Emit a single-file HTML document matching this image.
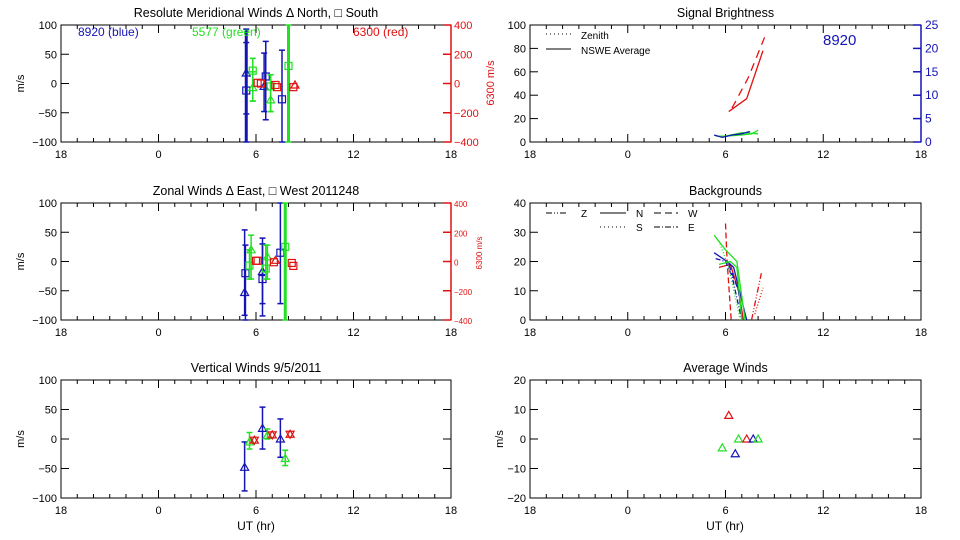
<!DOCTYPE html>
<html><head><meta charset="utf-8"><style>
body{margin:0;background:#fff;}
svg{display:block;font-family:"Liberation Sans",sans-serif;}
</style></head><body>
<svg id="fig" width="960" height="540" viewBox="0 0 960 540"></svg>
<script>
const BLUE="#1414b4", GREEN="#22e022", RED="#e01010";
// ---- data ----
const timeTicks=[-6,0,6,12,18];
const timeTickLabels=["18","0","6","12","18"];
// Meridional: [time, value, lo, hi, symbol]
const merBlue=[[5.4,-12,-100,93,"s"],[5.4,18,-52,70,"t"],[6.6,12,-62,72,"s"],[6.5,-5,-48,52,"t"],[7.6,-27,-100,57,"s"]];
const merGreen=[[5.8,22,-30,43,"s"],[5.8,-7,-30,20,"t"],[6.9,-5,-48,15,"s"],[6.9,-28,-48,15,"t"],[8.0,30,-100,100,"s"]];
const merRed=[[6.1,5,null,null,"s"],[6.3,0,null,null,"s"],[7.2,-10,null,null,"s"],[7.3,-25,null,null,"s"],[8.3,-25,null,null,"s"],[8.4,-10,null,null,"t"]];
const zonBlue=[[5.3,-53,-92,54,"t"],[5.35,-20,-100,28,"s"],[6.4,-17,-72,30,"t"],[6.4,-30,-93,40,"s"],[7.5,15,-72,100,"s"]];
const zonGreen=[[5.7,20,-30,45,"t"],[5.6,-7,-30,20,"s"],[6.7,8,-30,28,"t"],[6.6,-12,-30,28,"s"],[7.8,25,-100,100,"s"]];
const zonRed=[[6.0,5,null,null,"s"],[6.1,5,null,null,"s"],[7.1,-5,null,null,"s"],[7.2,8,null,null,"t"],[8.2,-10,null,null,"s"],[8.3,-30,null,null,"s"]];
const vertBlue=[[5.3,-48,-88,-5,"t"],[6.4,18,-17,54,"t"],[7.5,0,-31,34,"t"]];
const vertGreen=[[5.6,-5,-17,11,"t"],[6.7,6,0,17,"t"],[7.8,-33,-45,-19,"t"]];
const vertRed=[[5.9,-2,null,null,"x"],[7.0,7,null,null,"x"],[8.1,8,null,null,"x"]];
const avgTimes=[5.8,6.2,6.6,6.8,7.3,7.7,8.0];
const avgValues=[-3,8,-5,0,0,0,0];
const avgColors=[GREEN,RED,BLUE,GREEN,RED,BLUE,GREEN];
const sigRedSolidT=[6.2,7.3,8.3], sigRedSolidV=[26,37,78];
const sigRedDashT=[6.4,7.4,8.5], sigRedDashV=[29,55,93];
const sigBlueT=[5.3,5.8,6.4,7.0,7.5], sigBlueV=[6,4,6,7,9];
const sigGreenT=[5.4,6.0,7.0,7.6,8.0], sigGreenV=[5,5,6,7,10];
const sigGreenT2=[6.0,7.0,8.0], sigGreenV2=[5,8,7];
const bgSeries=[
 {c:RED,d:"6,3",t:[6.0,6.1,6.35],v:[33,20,0]},
 {c:RED,d:"6,2,1,2,1,2",t:[7.6,8.2],v:[0,16]},
 {c:RED,d:"1,2",t:[7.8,8.3],v:[2,11]},
 {c:RED,d:"",t:[5.6,6.3,6.8,7.1],v:[18,19,10,0]},
 {c:BLUE,d:"",t:[5.3,6.1,6.5,7.3],v:[23,20,18,0]},
 {c:BLUE,d:"5,2,1,2",t:[5.4,6.0,6.4,7.0],v:[21,20,15,0]},
 {c:BLUE,d:"6,3",t:[6.2,6.8,7.0],v:[19,10,0]},
 {c:GREEN,d:"",t:[5.3,6.0,6.7,7.2],v:[29,24,20,0]},
 {c:GREEN,d:"",t:[5.6,6.3,6.7,7.0],v:[19,20,18,0]},
 {c:GREEN,d:"1,2",t:[5.6,6.2,6.9],v:[27,18,0]}
];
// ---- helpers ----
const svg=document.getElementById('fig');
const NS="http://www.w3.org/2000/svg";
function el(tag,attrs,parent){const e=document.createElementNS(NS,tag);for(const k in attrs)e.setAttribute(k,attrs[k]);(parent||svg).appendChild(e);return e;}
function txt(x,y,s,attrs){const e=el('text',Object.assign({x:x,y:y,'font-size':11},attrs||{}));e.textContent=s;return e;}
function mkPanel(name,x0,x1,y0,y1,ymin,ymax){
  const g=el('g',{});
  
  
  return {g,x0,x1,y0,y1,ymin,ymax,
    X:t=>x0+(t+6)/24*(x1-x0),
    Y:v=>y1-(v-ymin)/(ymax-ymin)*(y1-y0)};
}
function frame(p,title,yticks,ylabels,mirror){
  el('rect',{x:p.x0,y:p.y0,width:p.x1-p.x0,height:p.y1-p.y0,fill:'none',stroke:'#000','stroke-width':1},p.g);
  for(let h=-6;h<=18;h++){
    const x=p.X(h);const maj=(h%6===0);const L=maj?8:4;
    el('line',{x1:x,x2:x,y1:p.y1,y2:p.y1-L,stroke:'#000'},p.g);
    el('line',{x1:x,x2:x,y1:p.y0,y2:p.y0+L,stroke:'#000'},p.g);
  }
  timeTicks.forEach((t,i)=>{const e=txt(p.X(t),p.y1+16,timeTickLabels[i],{'text-anchor':'middle'});p.g.appendChild(e);});
  yticks.forEach((v,i)=>{const y=p.Y(v);
    el('line',{x1:p.x0,x2:p.x0+8,y1:y,y2:y,stroke:'#000'},p.g);
    if(mirror)el('line',{x1:p.x1,x2:p.x1-8,y1:y,y2:y,stroke:'#000'},p.g);
    const e=txt(p.x0-4,y+4,ylabels[i],{'text-anchor':'end'});p.g.appendChild(e);});
  const tt=txt((p.x0+p.x1)/2,p.y0-8,title,{'text-anchor':'middle','font-size':12.5});
  p.g.appendChild(tt);
}
function ylab(p,s,x){const e=txt(0,0,s,{'text-anchor':'middle','font-size':11,transform:`translate(${x},${(p.y0+p.y1)/2}) rotate(-90)`});p.g.appendChild(e);}
function sym(p,x,y,s,c){
  if(s==="s")el('rect',{x:x-3.5,y:y-3.5,width:7,height:7,fill:'none',stroke:c,'stroke-width':1.2},p.g);
  else if(s==="t")el('polygon',{points:`${x},${y-4} ${x-4},${y+3} ${x+4},${y+3}`,fill:'none',stroke:c,'stroke-width':1.2},p.g);
  else {el('polygon',{points:`${x},${y-4} ${x-4},${y+3} ${x+4},${y+3}`,fill:'none',stroke:c,'stroke-width':1.2},p.g);
        el('polygon',{points:`${x},${y+4} ${x-4},${y-3} ${x+4},${y-3}`,fill:'none',stroke:c,'stroke-width':1.2},p.g);}
}
function points(p,arr,c,Yf,name){
  arr.forEach(d=>{
    const x=p.X(d[0]);
    const clamp=v=>Math.max(p.y0,Math.min(p.y1,v));
    if(d[2]!==null){
      const ya=clamp(Yf(d[2])),yb=clamp(Yf(d[3]));
      const big=(d[3]-d[2])>=190;
      el('line',{x1:x,x2:x,y1:ya,y2:yb,stroke:c,'stroke-width':big?3:1.5},p.g);
      el('line',{x1:x-3,x2:x+3,y1:ya,y2:ya,stroke:c,'stroke-width':1.5},p.g);
      el('line',{x1:x-3,x2:x+3,y1:yb,y2:yb,stroke:c,'stroke-width':1.5},p.g);
    }
    const m=el('g',{},p.g);
    
    
    sym(p,x,Yf(d[1]),d[4],c);
  });
}
function poly(p,T,V,c,dash,name,Yf){
  const pts=T.map((t,i)=>`${p.X(t)},${(Yf||p.Y)(V[i])}`).join(' ');
  const e=el('polyline',{points:pts,fill:'none',stroke:c,'stroke-width':1.3,'stroke-dasharray':dash||''},p.g);
  
  
}
function redAxis(p,ticks,fs){
  const Y2=v=>p.y1-(v+400)/800*(p.y1-p.y0);
  el('line',{x1:p.x1,x2:p.x1,y1:p.y0,y2:p.y1,stroke:RED,'stroke-width':1.5},p.g);
  ticks.forEach(v=>{const y=Y2(v);el('line',{x1:p.x1-8,x2:p.x1,y1:y,y2:y,stroke:RED,'stroke-width':1.5},p.g);
    const e=txt(p.x1+3,y+4,String(v).replace('-','−'),{fill:RED,'font-size':fs});p.g.appendChild(e);});
  return Y2;
}
const lab100=["100","50","0","−50","−100"], t100=[100,50,0,-50,-100];
// ---- Meridional ----
let p=mkPanel('meridional-winds-panel',61,451,25,142,-100,100);
frame(p,"Resolute Meridional Winds Δ North, □ South",t100,lab100,false);
ylab(p,"m/s",24);
let Y2=redAxis(p,[400,200,0,-200,-400],11);
txt(78,36,"8920 (blue)",{fill:BLUE,'font-size':12});
txt(192,36,"5577 (green)",{fill:GREEN,'font-size':12});
txt(353,36,"6300 (red)",{fill:RED,'font-size':12});
points(p,merBlue,BLUE,p.Y,'blue-point');points(p,merGreen,GREEN,p.Y,'green-point');points(p,merRed,RED,Y2,'red-point');
let e=txt(0,0,"6300 m/s",{fill:RED,'font-size':11,'text-anchor':'middle',transform:'translate(494,83) rotate(-90)'});

// ---- Zonal ----
p=mkPanel('zonal-winds-panel',61,451,203,320,-100,100);
frame(p,"Zonal Winds Δ East, □ West 2011248",t100,lab100,false);
ylab(p,"m/s",24);
Y2=redAxis(p,[400,200,0,-200,-400],8);
points(p,zonBlue,BLUE,p.Y,'blue-point');points(p,zonGreen,GREEN,p.Y,'green-point');points(p,zonRed,RED,Y2,'red-point');
e=txt(0,0,"6300 m/s",{fill:RED,'font-size':8,'text-anchor':'middle',transform:'translate(482,253) rotate(-90)'});

// ---- Vertical ----
p=mkPanel('vertical-winds-panel',61,451,380,498,-100,100);
frame(p,"Vertical Winds 9/5/2011",t100,lab100,true);
ylab(p,"m/s",24);
points(p,vertBlue,BLUE,p.Y,'blue-point');points(p,vertGreen,GREEN,p.Y,'green-point');points(p,vertRed,RED,p.Y,'red-point');
e=txt(256,530,"UT (hr)",{'text-anchor':'middle','font-size':12});
// ---- Signal Brightness ----
p=mkPanel('signal-brightness-panel',530,921,25,142,0,100);
frame(p,"Signal Brightness",[100,80,60,40,20,0],["100","80","60","40","20","0"],false);
const YB=v=>p.y1-v/25*(p.y1-p.y0);
el('line',{x1:p.x1,x2:p.x1,y1:p.y0,y2:p.y1,stroke:BLUE,'stroke-width':1.5},p.g);
[0,5,10,15,20,25].forEach(v=>{const y=YB(v);el('line',{x1:p.x1-8,x2:p.x1,y1:y,y2:y,stroke:BLUE,'stroke-width':1.5},p.g);
  const t=txt(p.x1+4,y+4,String(v),{fill:BLUE,'font-size':12});});
txt(823,45,"8920",{fill:BLUE,'font-size':15});
el('line',{x1:546,x2:571,y1:34,y2:34,stroke:'#000','stroke-dasharray':'1,3'},p.g);
txt(581,39,"Zenith",{'font-size':10});
el('line',{x1:546,x2:571,y1:49,y2:49,stroke:'#000'},p.g);
txt(581,54,"NSWE Average",{'font-size':10});
poly(p,sigRedSolidT,sigRedSolidV,RED,'','red-average-line');
poly(p,sigRedDashT,sigRedDashV,RED,'8,6','red-zenith-line');
poly(p,sigGreenT,sigGreenV,GREEN,'','green-line');
poly(p,sigGreenT2,sigGreenV2,GREEN,'','green-line-2');
poly(p,sigBlueT,sigBlueV,BLUE,'','blue-line');
// ---- Backgrounds ----
p=mkPanel('backgrounds-panel',530,921,203,320,0,40);
frame(p,"Backgrounds",[40,30,20,10,0],["40","30","20","10","0"],true);
[[546,566,"6,2,1,2,1,2","Z",581,217],[600,626,"","N",636,217],[654,678,"7,4","W",688,217],[600,626,"1,3","S",636,231],[654,678,"6,2,1,2","E",688,231]].forEach(l=>{
  el('line',{x1:l[0],x2:l[1],y1:l[5]-4,y2:l[5]-4,stroke:'#000','stroke-dasharray':l[2]},p.g);
  const t=txt(l[4],l[5],l[3],{'font-size':10});});
bgSeries.forEach(s=>poly(p,s.t,s.v,s.c,s.d,'background-line'));
// ---- Average winds ----
p=mkPanel('average-winds-panel',530,921,380,498,-20,20);
frame(p,"Average Winds",[20,10,0,-10,-20],["20","10","0","−10","−20"],true);
ylab(p,"m/s",503);
avgTimes.forEach((t,i)=>{const m=el('g',{},p.g);
  
  
  sym(p,p.X(t),p.Y(avgValues[i]),"t",avgColors[i]);});
e=txt(725,530,"UT (hr)",{'text-anchor':'middle','font-size':12});
</script>
</body></html>
